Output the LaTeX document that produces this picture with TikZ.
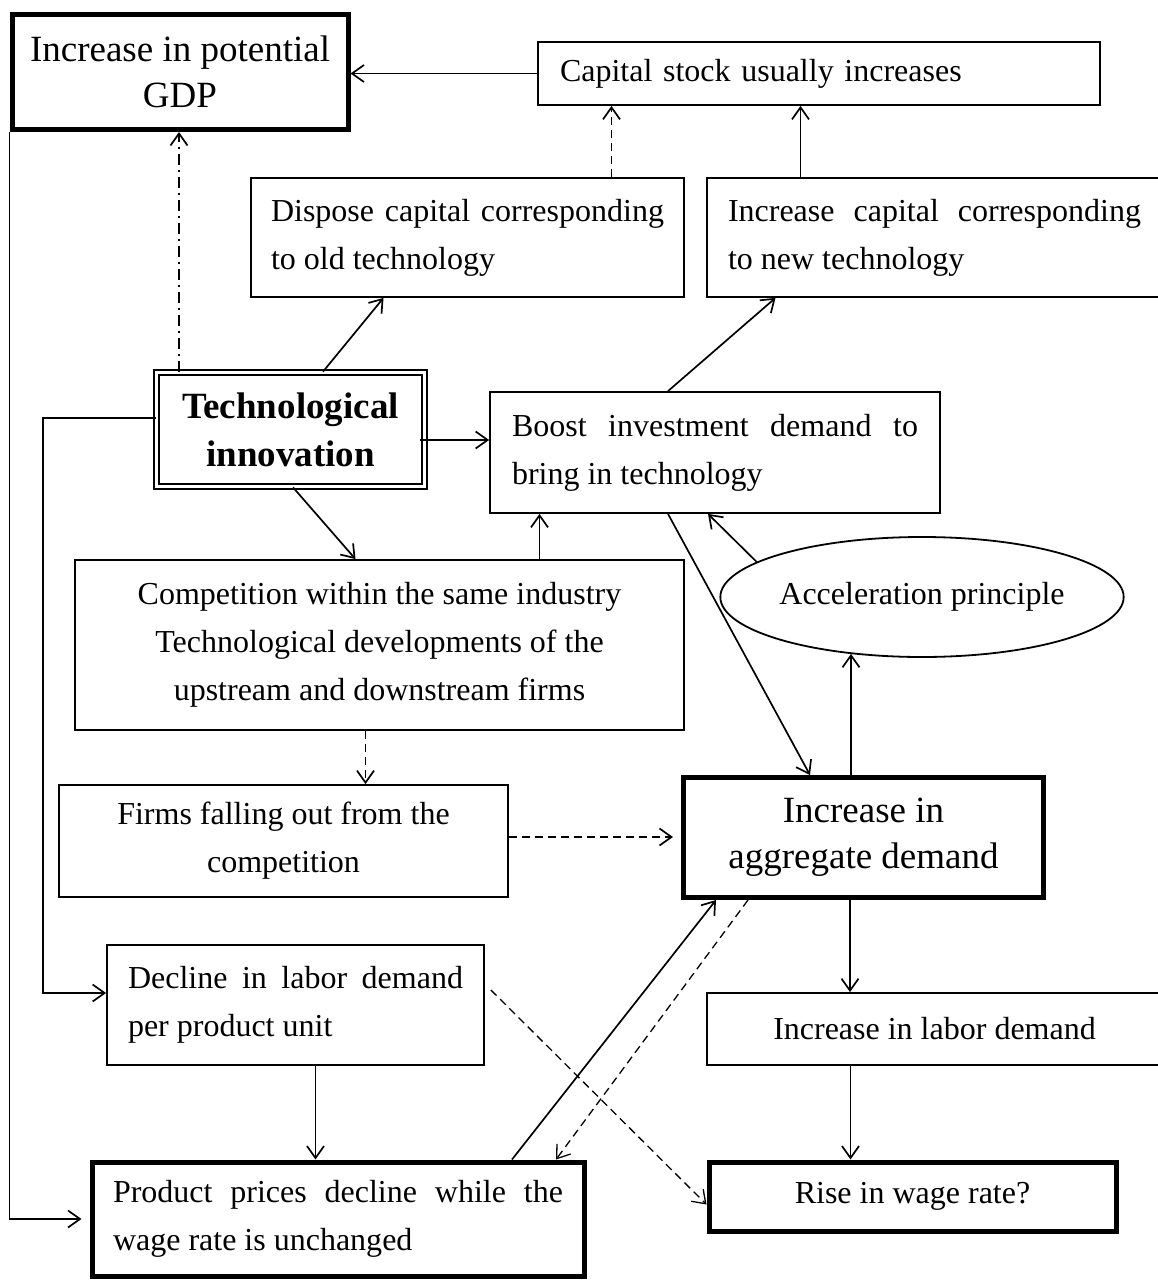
\documentclass[tikz,border=0pt]{standalone}
\usepackage{fontspec}
\setmainfont{Liberation Serif}
\usetikzlibrary{arrows.meta,positioning,calc,shapes.geometric}

\begin{document}
\begin{tikzpicture}[x=1pt, y=-1pt,
  every node/.style={font=\fontsize{32}{48}\selectfont},
  box/.style={draw, line width=1.8pt, inner sep=0pt},
  heavy/.style={draw, line width=5pt, inner sep=0pt},
  big/.style={font=\fontsize{37}{46}\selectfont},
  lines/.style={line width=1.7pt, -{Straight Barb[length=12pt,width=17pt]}},
  dashline/.style={lines, dash pattern=on 8pt off 5pt}]
\useasboundingbox (0,0) rectangle (1157,1281);

\node[heavy, big, minimum width=336, minimum height=115, align=center] (gdp) at (180,72) {Increase in potential\\GDP};
\node[box, minimum height=63, text width=518, inner xsep=22, align=left] (cap) at (819,73.5) {Capital stock usually increases};
\node[box, minimum height=119, text width=393, inner xsep=20, align=justify] (dispose) at (467.5,237.5) {Dispose capital corresponding\linebreak to old technology};
\node[box, minimum height=119, text width=413, inner xsep=21, align=justify] (newcap) at (934.5,237.5) {Increase capital corresponding\linebreak to new technology};
\node[draw, double, double distance=3.5pt, line width=1.7pt, minimum width=268, minimum height=114, inner sep=0pt, align=center, font=\fontsize{37}{48}\selectfont\bfseries] (tech) at (290.5,429.5) {Technological\\innovation};
\node[box, minimum height=121, text width=406, inner xsep=22, align=justify] (boost) at (715,452.5) {Boost investment demand to\linebreak bring in technology};
\node[box, minimum width=609, minimum height=170, align=center] (comp) at (379.5,645) {Competition within the same industry\\Technological developments of the\\upstream and downstream firms};
\node[draw, ellipse, line width=1.8pt, minimum width=385, minimum height=120, inner sep=0pt] (accel) at (922,597) {Acceleration principle};
\node[heavy, big, minimum width=360, minimum height=120, align=center] (ad) at (863.5,837.5) {Increase in\\aggregate demand};
\node[box, minimum width=449, minimum height=112, align=center] (firms) at (283.5,841) {Firms falling out from the\\competition};
\node[box, minimum width=455, minimum height=72] (labor) at (934.5,1029) {Increase in labor demand};
\node[heavy, minimum width=407, minimum height=69] (wage) at (912.5,1196.5) {Rise in wage rate?};
\node[box, minimum height=120, text width=335, inner xsep=21, align=justify] (decline) at (295.5,1005) {Decline in labor demand\linebreak per product unit};
\node[heavy, minimum height=114, text width=450, inner xsep=21, align=justify] (prod) at (338,1219) {Product prices decline while the\linebreak wage rate is unchanged};

\draw[lines] (cap.west) -- (cap.west -| gdp.east);
\draw[dashline] ([xshift=144pt]dispose.north) -- ([xshift=144pt]dispose.north |- cap.south);
\draw[lines] ([xshift=-134pt]newcap.north) -- ([xshift=-134pt]newcap.north |- cap.south);
\draw[lines, dash pattern=on 11pt off 5pt on 2pt off 5pt] ([xshift=-111.5pt]tech.north) -- ([xshift=-111.5pt]tech.north |- gdp.south);
\draw[lines] ([xshift=32.5pt]tech.north) -- ([xshift=-84pt]dispose.south);
\draw[lines] ([xshift=-5pt,yshift=-10.5pt]tech.east) -- ([yshift=-10.5pt]tech.east -| boost.west);
\draw[lines] ([xshift=2.5pt]tech.south) -- ([xshift=-24pt]comp.north);
\draw[lines] ([xshift=160pt]comp.north) -- ([xshift=160pt]comp.north |- boost.south);
\draw[lines] ([xshift=-47pt]boost.north) -- ([xshift=-159pt]newcap.south);
\draw[lines] (accel.168) -- ([xshift=-7pt]boost.south);
\draw[lines] ([xshift=-47pt]boost.south) -- ([xshift=-53.5pt]ad.north);
\draw[lines, shorten >=-4pt] ([xshift=-12.5pt]ad.north) -- ([xshift=-12.5pt]ad.north |- accel.south);
\draw[dashline] ([xshift=-14pt]comp.south) -- ([xshift=-14pt]comp.south |- firms.north);
\draw[dashline, shorten >=8pt] ([yshift=4pt]firms.east) -- ([yshift=4pt]firms.east -| ad.west);
\draw[lines] ([xshift=-13.5pt]ad.south) -- ([xshift=-13.5pt]ad.south |- labor.north);
\draw[lines] ([xshift=-84pt]labor.south) -- ([xshift=-84pt]labor.south |- wage.north);
\draw[lines, shorten >=8pt] (gdp.south west) |- (prod.west);
\draw[lines] ([yshift=11.5pt]tech.west) -- ++(-113,0) |- ([yshift=12pt]decline.west);
\draw[lines] ([xshift=20pt]decline.south) -- ([xshift=20pt]decline.south |- prod.north);
\draw[lines] ([xshift=174pt]prod.north) -- ([xshift=-147.5pt]ad.south);
\draw[dashline, line width=1.3pt] ([xshift=-115.5pt]ad.south) -- ([xshift=218pt]prod.north);
\draw[dashline, line width=1.3pt] ([xshift=6pt,yshift=15pt]decline.east) -- ([yshift=-8pt]wage.west);
\end{tikzpicture}
\end{document}
